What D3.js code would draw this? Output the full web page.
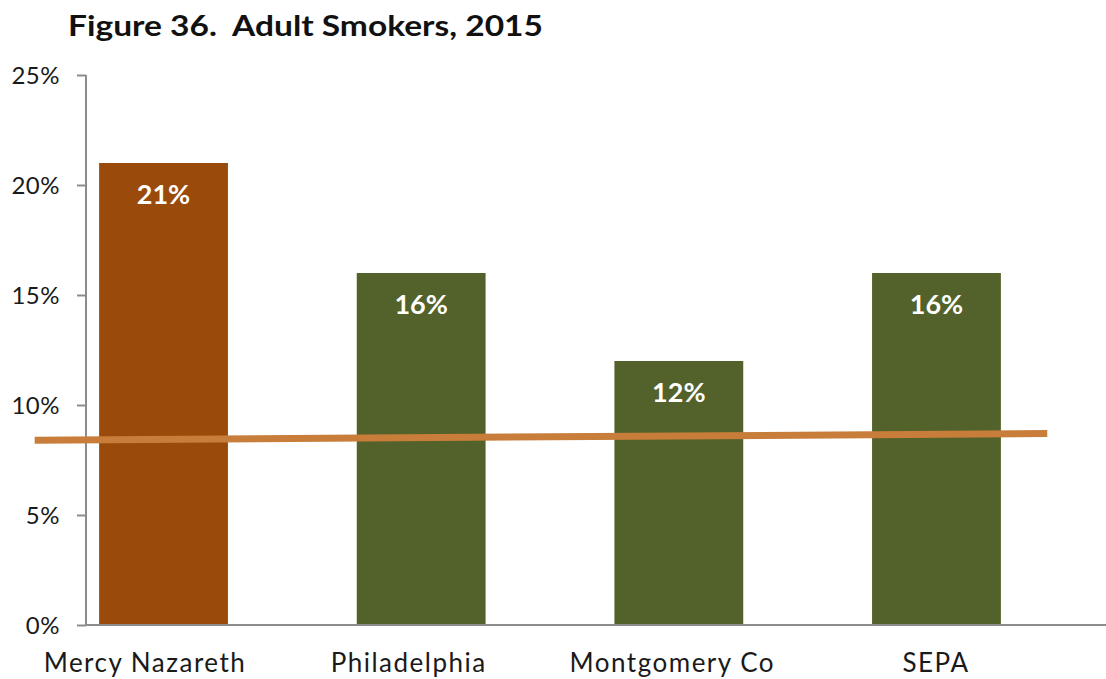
<!DOCTYPE html>
<html>
<head>
<meta charset="utf-8">
<script src="https://cdn.jsdelivr.net/npm/d3@7"></script>
<style>
  html, body { margin: 0; padding: 0; background: #fff; }
  svg { display: block; }
  text { font-family: "Lato", "DejaVu Sans", sans-serif; }
</style>
</head>
<body>
<svg id="chart" width="1106" height="679"></svg>
<script>
// ---- data ----
const categories = ["Mercy Nazareth", "Philadelphia", "Montgomery Co", "SEPA"];
const smokerValues = [21, 16, 12, 16];
const barColors = ["#9A4A0A", "#52622A", "#52622A", "#52622A"];
const yTicks = [0, 5, 10, 15, 20, 25];
// reference line: positions in category-index units and percent values
const refLineIndex = [-0.5, 3.43];
const refLineValues = [8.4, 8.7];
const titleText = "Figure 36.  Adult Smokers, 2015";

// ---- layout ----
const svg = d3.select("#chart");
const plotTop = 75, plotBottom = 625;
const axisX = 86;

const x = d3.scaleBand()
  .domain(categories)
  .range([34.7, 1065.3])
  .paddingInner(0.5)
  .paddingOuter(0.25);

const y = d3.scaleLinear().domain([0, 25]).range([plotBottom, plotTop]);

const idx = d3.scaleLinear()
  .domain([0, categories.length - 1])
  .range([x(categories[0]) + x.bandwidth() / 2, x(categories[categories.length - 1]) + x.bandwidth() / 2]);

// label positions (axis labels are slightly shifted vs bars in the reference)
const labelX = d3.scalePoint().domain(categories).range([145, 936]);

// title
svg.append("text")
  .attr("x", 68).attr("y", 36)
  .attr("font-size", 29).attr("font-weight", "bold").attr("fill", "#111")
  .attr("textLength", 475).attr("lengthAdjust", "spacingAndGlyphs")
  .attr("xml:space", "preserve")
  .style("white-space", "pre")
  .text(titleText);

// bars
svg.append("g").selectAll("rect")
  .data(categories)
  .join("rect")
  .attr("x", d => x(d))
  .attr("width", x.bandwidth())
  .attr("y", (d, i) => y(smokerValues[i]))
  .attr("height", (d, i) => y(0) - y(smokerValues[i]))
  .attr("fill", (d, i) => barColors[i]);

// value labels
svg.append("g").selectAll("text")
  .data(categories)
  .join("text")
  .attr("x", d => x(d) + x.bandwidth() / 2)
  .attr("y", (d, i) => y(smokerValues[i]) + 41)
  .attr("text-anchor", "middle")
  .attr("font-size", 27).attr("font-weight", "bold").attr("fill", "#fff")
  .text((d, i) => smokerValues[i] + "%");

// y axis
const yAxis = svg.append("g")
  .attr("transform", `translate(${axisX},0)`)
  .call(d3.axisLeft(y).tickValues(yTicks).tickFormat(d => d + "%").tickSize(9).tickPadding(17));
yAxis.select(".domain").attr("stroke", "#8c8c8c").attr("stroke-width", 2).attr("d", `M0,${plotTop}V${plotBottom}`);
yAxis.selectAll(".tick line").attr("stroke", "#8c8c8c").attr("stroke-width", 2);
yAxis.selectAll(".tick text")
  .attr("font-size", 24).attr("fill", "#1a1a1a")
  .attr("font-family", "Lato, 'DejaVu Sans', sans-serif")
  .attr("letter-spacing", 0.5)
  .attr("dy", "0.36em");

// x axis baseline
svg.append("line")
  .attr("x1", axisX).attr("x2", 1106)
  .attr("y1", y(0)).attr("y2", y(0))
  .attr("stroke", "#8c8c8c").attr("stroke-width", 2);

// category labels
svg.append("g").selectAll("text")
  .data(categories)
  .join("text")
  .attr("x", d => labelX(d))
  .attr("y", 672)
  .attr("text-anchor", "middle")
  .attr("font-size", 26).attr("fill", "#1a1a1a")
  .attr("letter-spacing", 1.5)
  .text(d => d);

// reference line
const line = d3.line().x(d => idx(d[0])).y(d => y(d[1]));
svg.append("path")
  .datum(refLineIndex.map((v, i) => [v, refLineValues[i]]))
  .attr("d", line)
  .attr("fill", "none")
  .attr("stroke", "#C87D3A")
  .attr("stroke-width", 7);
</script>
</body>
</html>
